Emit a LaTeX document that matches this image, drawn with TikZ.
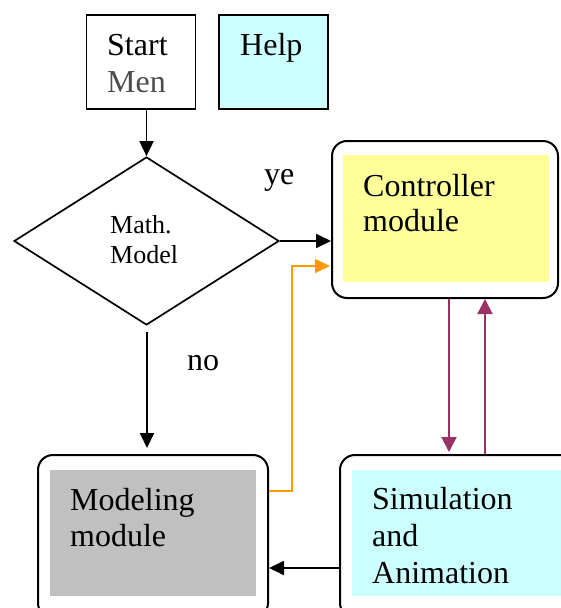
\documentclass[tikz,border=0pt]{standalone}
\usepackage{fontspec}
\setmainfont{Liberation Serif}
\newfontfamily\boxface{Liberation Serif}
\usetikzlibrary{arrows.meta,shapes.geometric,calc}
\definecolor{helpcyan}{HTML}{CCFFFF}
\definecolor{ctrlyellow}{HTML}{FFFF99}
\definecolor{modgray}{HTML}{C0C0C0}
\definecolor{linkpurple}{HTML}{993366}
\definecolor{linkorange}{HTML}{FF9900}
\definecolor{mengray}{HTML}{4D4D4D}
\begin{document}
\begin{tikzpicture}[x=1pt,y=-1pt,
  plainbox/.style={draw,line width=1.7pt,inner sep=0pt,rectangle},
  roundbox/.style={draw,line width=2pt,inner sep=0pt,rectangle,rounded corners=15pt},
  fillbox/.style={inner sep=0pt,rectangle},
  bigtext/.style={inner sep=0pt,anchor=base west,font=\boxface\fontsize{32}{37}\selectfont},
  smalltext/.style={inner sep=0pt,anchor=base west,font=\boxface\fontsize{26}{30}\selectfont},
  flow/.style={line width=1.8pt,-{Triangle[length=15pt,width=14pt]}},
  purpleflow/.style={draw=linkpurple,line width=2pt,-{Triangle[length=15pt,width=15pt]},linkpurple},
  orangeflow/.style={draw=linkorange,line width=1.6pt,-{Triangle[length=15pt,width=14pt]},linkorange}]
\useasboundingbox (0,0) rectangle (561,608);
\clip (0,0) rectangle (561,608);

% top row
\node[plainbox,minimum width=109pt,minimum height=94pt] (start) at (141,62) {};
\node[plainbox,fill=helpcyan,minimum width=109pt,minimum height=94pt] (help) at (273.5,62) {};
\node[bigtext] (starttxt) at (107,55) {Start};
\node[bigtext,text=mengray] (mentxt) at (107,92) {Men};
\node[bigtext] (helptxt) at (240,55) {Help};

% decision
\node[draw,diamond,line width=1.7pt,inner sep=0pt,minimum width=265pt,minimum height=168pt] (math) at (146.5,241) {};
\node[smalltext] (mathtxt) at (110,233) {Math.};
\node[smalltext] (modeltxt) at (110,263) {Model};
\node[bigtext] (yes) at (264,184) {ye};
\node[bigtext] (no) at (187,370) {no};

% controller module
\node[roundbox,minimum width=226pt,minimum height=157pt] (ctrl) at (445,219.5) {};
\node[fillbox,fill=ctrlyellow,minimum width=206pt,minimum height=127pt] (ctrlfill) at (446,218.5) {};
\node[bigtext] (ctrltxt1) at (363,196) {Controller};
\node[bigtext] (ctrltxt2) at (363,231) {module};

% modeling module
\node[roundbox,minimum width=230pt,minimum height=163pt] (model) at (153,536.5) {};
\node[fillbox,fill=modgray,minimum width=206pt,minimum height=126pt] (modelfill) at (153,533) {};
\node[bigtext] (modeltxt1) at (70,510) {Modeling};
\node[bigtext] (modeltxt2) at (70,546) {module};

% simulation module
\node[roundbox,minimum width=236pt,minimum height=163pt] (sim) at (458,536.5) {};
\node[fillbox,fill=helpcyan,minimum width=214pt,minimum height=126pt] (simfill) at (459,533) {};
\node[bigtext] (simtxt1) at (372,509) {Simulation};
\node[bigtext] (simtxt2) at (372,546) {and};
\node[bigtext] (simtxt3) at (372,583) {Animation};

% connectors
\coordinate (nostart) at (147,332);
\coordinate (noend) at (147,448);
\coordinate (orangeout) at (292,491);
\coordinate (orangein) at (330,266);
\coordinate (downx) at (449,0);
\coordinate (upx) at (485,0);

\draw[flow] (math.north |- start.south) -- (math.north);
\draw[flow] (math.east) -- (ctrl.west |- math.east);
\draw[flow] (nostart) -- (noend);
\draw[flow] (sim.west |- 0,568) -- (model.east |- 0,568);
\draw[orangeflow] (model.east |- orangeout) -- (orangeout) |- (orangein);
\draw[purpleflow] (downx |- ctrl.south) -- ($(downx |- sim.north)+(0,-2)$);
\draw[purpleflow] (upx |- sim.north) -- (upx |- ctrl.south);
\end{tikzpicture}
\end{document}
